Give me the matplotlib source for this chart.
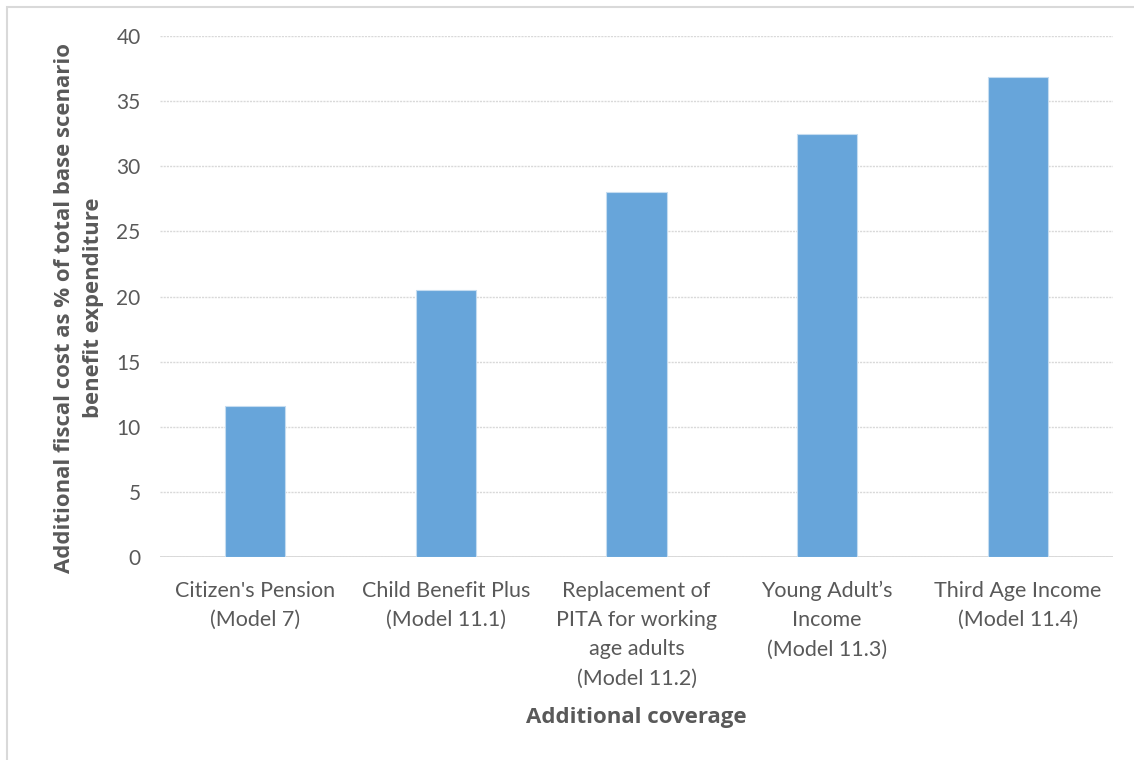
import matplotlib.pyplot as plt
from matplotlib.patches import Rectangle

categories = [
    "Citizen's Pension\n(Model 7)",
    "Child Benefit Plus\n(Model 11.1)",
    "Replacement of\nPITA for working\nage adults\n(Model 11.2)",
    "Young Adult\u2019s\nIncome\n(Model 11.3)",
    "Third Age Income\n(Model 11.4)",
]
cost_pct = [11.6, 20.5, 28.0, 32.5, 36.85]
y_ticks = [0, 5, 10, 15, 20, 25, 30, 35, 40]

grey = "#595959"
plt.rcParams["font.family"] = ["Lato", "DejaVu Sans"]
bold_font = ["Open Sans", "DejaVu Sans"]

fig = plt.figure(figsize=(11.34, 7.6), dpi=100)
ax = fig.add_axes([0.1411, 0.267, 0.8404, 0.6856])

x = range(len(categories))
ax.bar(x, cost_pct, width=0.315, color="#67a5da", edgecolor="#c5dcf0",
       linewidth=0.8, zorder=3)

ax.set_xlim(-0.5, len(categories) - 0.5)
ax.set_ylim(0, 40)
ax.set_yticks(y_ticks)
ax.set_xticks(list(x))
ax.set_xticklabels(categories, fontsize=15.5, color=grey, linespacing=1.58)
ax.tick_params(axis="y", labelsize=15, labelcolor=grey, length=0, pad=14)
ax.tick_params(axis="x", length=0, pad=17)

ax.yaxis.grid(True, color="#d9d9d9", linewidth=1.0, linestyle=(0, (1.5, 0.8)),
              zorder=0)
ax.set_axisbelow(True)
for side in ["top", "right", "left", "bottom"]:
    ax.spines[side].set_visible(False)
ax.axhline(0, color="#d4d4d4", linewidth=1.2, zorder=1)

ax.set_xlabel("Additional coverage", fontsize=16, fontweight="bold",
              family=bold_font, color=grey, labelpad=13)
ax.set_ylabel("Additional fiscal cost as % of total base scenario\n"
              "benefit expenditure", fontsize=15.9, fontweight="bold",
              family=bold_font, color=grey, linespacing=1.47)
ax.yaxis.set_label_coords(-0.059, 0.478)

# light outer frame of the chart area
fig.patches.append(Rectangle((7 / 1134, -0.1), 1.2, 0.1 + 753 / 760,
                             transform=fig.transFigure, fill=False,
                             edgecolor="#d9d9d9", linewidth=1.5))

fig.savefig("out.png", dpi=100)
